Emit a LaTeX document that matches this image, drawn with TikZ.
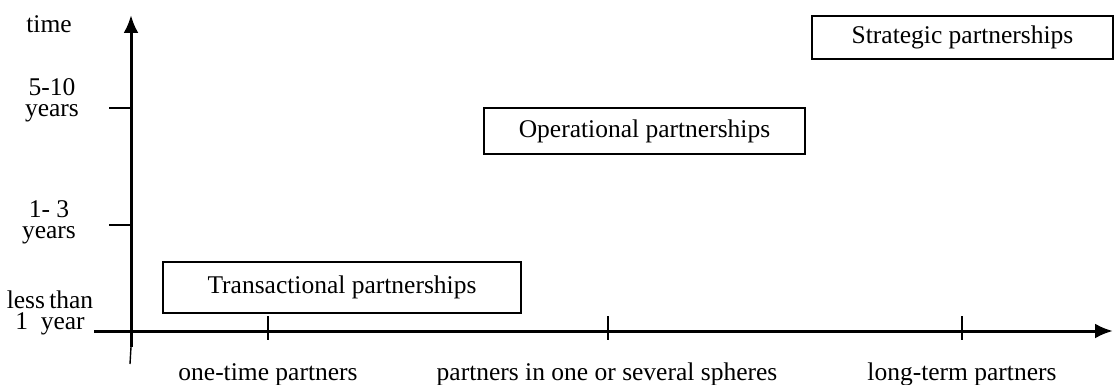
\documentclass[tikz,border=0pt]{standalone}
\usepackage{fontspec}
\setmainfont{Liberation Serif}
\usetikzlibrary{arrows.meta}

\begin{document}
\begin{tikzpicture}[x=1pt,y=-1pt,
		every node/.style={font=\fontsize{25.5}{21}\selectfont, inner sep=0pt},
		partbox/.style={draw, line width=1.3pt},
		axistick/.style={line width=1.4pt}]
		\useasboundingbox (0,0) rectangle (1114,385);
		\coordinate (Origin)   at (131,331);
		\coordinate (XAxisMin) at (94,331);
		\coordinate (XAxisMax) at (1113,331);
		\coordinate (YAxisMin) at (131,347);
		\coordinate (YAxisEnd) at (130,364);
		\coordinate (YAxisMax) at (131,15);
		\draw [line width=3pt, -{Latex[length=18pt,width=15pt]}] (XAxisMin) -- (XAxisMax);% Draw x axis
		\draw [line width=3pt, -{Latex[length=18pt,width=15pt]}] (YAxisMin) -- (YAxisMax);% Draw y axis
		\draw [line width=1.4pt] (YAxisMin) -- (YAxisEnd);

		% ticks on the time axis
		\foreach \y in {108,225}{%
			\draw [axistick] (109,\y) -- (131,\y);
		}
		% ticks on the partner axis
		\foreach \x in {268,608,962}{%
			\draw [axistick] (\x,316) -- (\x,340);
		}

		% labels of the time axis
		\node (TimeLabel)  [anchor=base] at (49,33) {time};
		\node (LongLabel)  [align=center] at (52,100) {5-10\\years};
		\node (MidLabel)   [align=center] at (49,222) {1- 3\\years};
		\node (ShortLabel) [align=center] at (50,313) {less\,than\\1\ \ year};

		% labels of the partner axis
		\node (OneTime)  [anchor=base] at (268,380) {one-time partners};
		\node (Spheres)  [anchor=base] at (607,380) {partners in one or several spheres};
		\node (LongTerm) [anchor=base] at (962,380) {long-term partners};

		% kinds of partnership
		\node (Transact) [partbox, minimum width=358pt, minimum height=51pt] at (342,287.5) {Transactional partnerships};
		\node (Operate)  [partbox, minimum width=321pt, minimum height=46pt] at (644.5,131) {Operational partnerships};
		\node (Strategy) [partbox, minimum width=301pt, minimum height=43pt] at (962.5,37.5) {Strategic partnerships};
	  \end{tikzpicture}
\end{document}
